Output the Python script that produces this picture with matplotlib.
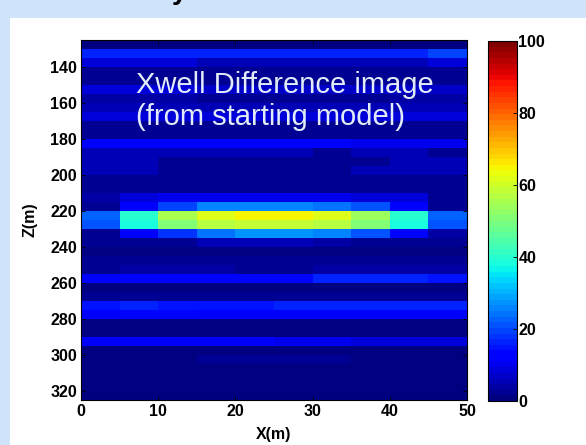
import numpy as np
import matplotlib
matplotlib.use("Agg")
import matplotlib.pyplot as plt
from matplotlib.patches import Rectangle

# ── DATA ─────────────────────────────────────────────────────────────────
x_edges = [0, 5, 10, 15, 20, 25, 30, 35, 40, 45, 50]
z_edges = list(range(125, 330, 5))
x_ticks = [0, 10, 20, 30, 40, 50]
z_ticks = [140, 160, 180, 200, 220, 240, 260, 280, 300, 320]
cbar_ticks = [0, 20, 40, 60, 80, 100]

# difference values, one row per 5 m depth cell (top to bottom)
diff = [
    [1.5, 1.5, 1.5, 1.5, 1.5, 1.5, 1.5, 1.5, 1.5, 1.5],
    [17, 17, 17, 17, 17, 16, 16, 16, 16, 20],
    [8, 8, 8, 6, 6, 6, 5, 5, 5, 8],
    [3, 3, 3, 3, 3, 3, 3, 3, 3, 3],
    [3, 3, 3, 3, 3, 3, 3, 3, 3, 3],
    [8, 8, 8, 7, 7, 7, 7, 7, 7, 7],
    [4, 4, 4, 3, 3, 3, 3, 3, 4, 4],
    [6, 6, 5, 5, 5, 5, 5, 5, 6, 6],
    [8, 8, 8, 8, 8, 8, 8, 8, 8, 9],
    [3, 3, 3, 3, 3, 3, 3, 3, 3, 3],
    [2, 2, 2, 2, 2, 2, 2, 2, 2, 2],
    [12, 12, 12, 12, 11, 11, 11, 10, 10, 10],
    [6, 6, 6, 6, 5, 5, 3, 5, 5, 3],
    [5, 5, 3, 2, 2, 2, 2, 3, 5, 5],
    [6, 6, 3, 2, 2, 2, 2, 5, 6, 6],
    [2, 2, 2, 2, 2, 2, 2, 2, 2, 2],
    [2, 2, 2, 2, 2, 2, 2, 2, 2, 2],
    [4, 8, 10, 10, 10, 10, 10, 9, 9, 3],
    [3, 12, 20, 25, 25, 25, 24, 21, 12, 3],
    [22, 40, 55, 61, 65, 65, 61, 54, 40, 22],
    [21, 39, 50, 57, 59, 59, 57, 51, 39, 21],
    [3, 11, 18, 24, 27, 27, 25, 21, 14, 4],
    [2, 2, 2, 5, 6, 6, 4, 3, 2, 2],
    [1.5, 1.5, 1.5, 1.5, 1.5, 1.5, 1.5, 1.5, 1.5, 1.5],
    [2, 2, 2, 2, 2, 2, 2, 2, 2, 2],
    [3, 4, 4, 4, 2, 2, 4, 4, 4, 4],
    [12, 12, 12, 12, 14, 14, 16, 16, 16, 15],
    [1, 1, 1, 1, 1, 1, 1, 1, 1, 1],
    [2, 2, 2, 2, 2, 2, 2, 2, 2, 2],
    [15, 17, 15, 15, 15, 16, 16, 16, 16, 16],
    [12, 13, 13, 11, 11, 11, 11, 11, 11, 11],
    [1, 1, 1, 1, 1, 1, 1, 1, 1, 1],
    [1, 1, 1, 1, 1, 1, 1, 1, 1, 1],
    [12, 12, 12, 12, 12, 10, 10, 9, 9, 9],
    [1, 1, 1, 1, 1, 1, 1, 1, 1, 1],
    [1, 1, 1, 3, 3, 3, 3, 1, 1, 1],
    [1, 1, 1, 1, 1, 1, 1, 1, 1, 1],
    [1, 1, 1, 1, 1, 1, 1, 1, 1, 1],
    [1, 1, 1, 1, 1, 1, 1, 1, 1, 1],
    [1, 1, 1, 1, 1, 1, 1, 1, 1, 1],
]

# ── FIGURE ───────────────────────────────────────────────────────────────
plt.rcParams["font.family"] = ["Liberation Sans", "DejaVu Sans"]

W, H = 586, 445
fig = plt.figure(figsize=(W / 100, H / 100), dpi=100)
fig.patch.set_facecolor("#cfe3fa")

# white slide panel, behind the axes
fig.patches.append(Rectangle((10 / W, 0), 1 - 10 / W, (H - 18) / H,
                             transform=fig.transFigure, facecolor="white",
                             edgecolor="none", zorder=-5))

# cut-off slide title above the panel
fig.text(172 / W, 1 + 1 / H, "y", fontsize=20, fontweight="bold",
         color="black", va="baseline", ha="left")

def px_box(left, top, right, bottom):
    return [left / W, (H - bottom) / H, (right - left) / W, (bottom - top) / H]

ax = fig.add_axes(px_box(81, 40, 467, 400))
cax = fig.add_axes(px_box(488, 41, 517, 401))

cmap = plt.get_cmap("jet", 64)
mesh = ax.pcolormesh(x_edges, z_edges, np.array(diff), cmap=cmap,
                     vmin=0, vmax=100, shading="flat")
ax.set_xlim(0, 50)
ax.set_ylim(325, 125)
ax.set_xticks(x_ticks)
ax.set_yticks(z_ticks)
ax.tick_params(direction="in", length=3, width=0.6, top=True, right=True,
               labelsize=11.5, pad=3)
for lab in ax.get_xticklabels() + ax.get_yticklabels():
    lab.set_fontweight("bold")
for sp in ax.spines.values():
    sp.set_linewidth(0.8)
ax.set_xlabel("X(m)", fontsize=11.5, fontweight="bold", labelpad=6)
ax.set_ylabel("Z(m)", fontsize=11.5, fontweight="bold", labelpad=9)

ax.text(0.142, 0.915, "Xwell Difference image\n(from starting model)",
        transform=ax.transAxes, fontsize=21, color="#e2ecf8",
        va="top", ha="left", linespacing=1.2)

cb = fig.colorbar(mesh, cax=cax, ticks=cbar_ticks)
cb.ax.tick_params(direction="in", length=3, width=0.6, labelsize=11.5, pad=1)
for lab in cb.ax.get_yticklabels():
    lab.set_fontweight("bold")
cb.outline.set_linewidth(0.8)

fig.savefig("out.png", dpi=100, facecolor=fig.get_facecolor())
